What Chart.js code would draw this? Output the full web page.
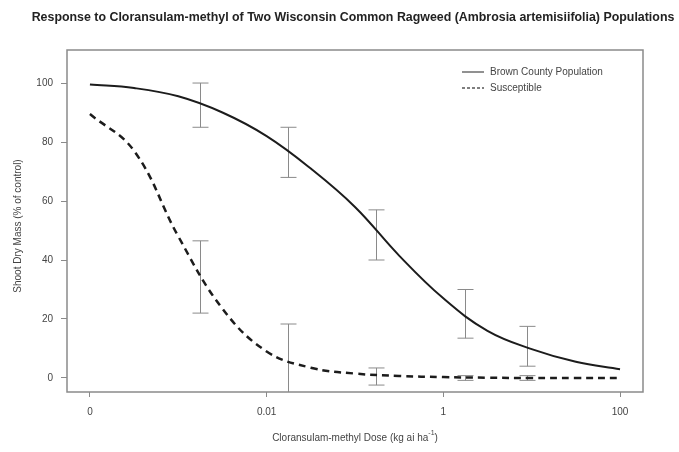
<!DOCTYPE html>
<html>
<head>
<meta charset="utf-8">
<script src="https://cdn.jsdelivr.net/npm/chart.js@4/dist/chart.umd.min.js"></script>
<style>
  html, body { margin: 0; padding: 0; background: #fff; }
</style>
</head>
<body>
<canvas id="c" width="679" height="452"></canvas>
<script>
const titleText = "Response to Cloransulam-methyl of Two Wisconsin Common Ragweed (Ambrosia artemisiifolia) Populations";
const xTitle = "Cloransulam-methyl Dose (kg ai ha";
const yTitle = "Shoot Dry Mass (% of control)";

const xTickValues = [0.0001, 0.01, 1, 100];
const xTickLabels = ["0", "0.01", "1", "100"];
const yTickValues = [0, 20, 40, 60, 80, 100];

// fitted curves, every half decade
const curveDose = [0.0001, 0.000316, 0.001, 0.00316, 0.01, 0.0316, 0.1, 0.316, 1, 3.16, 10, 31.6, 100];
const brownCurve = [99.5, 98.3, 95.5, 90, 82, 71, 58, 41.5, 27, 16, 9.8, 5.5, 3];
const suscCurve = [89.5, 77, 48, 23.5, 9, 3.5, 1.5, 0.7, 0.3, 0.1, 0, 0, 0];

// observed means with error bars
const obsDose = [0.00175, 0.0175, 0.175, 1.75, 8.75];
const brownLow = [85, 68, 40, 13.5, 4];
const brownHigh = [100, 85, 57, 30, 17.5];
const suscLow = [22, -8, -2.4, -0.8, -0.8];
const suscHigh = [46.5, 18.3, 3.4, 0.8, 0.8];

const seriesNames = ["Brown County Population", "Susceptible"];

const toPts = (xs, ys) => xs.map((x, i) => ({ x: x, y: ys[i] }));

const frame = {
  id: "frame",
  beforeDatasetsDraw(chart) {
    const { ctx, chartArea: a, scales } = chart;
    ctx.save();
    ctx.beginPath();
    ctx.rect(a.left, a.top, a.right - a.left, a.bottom - a.top);
    ctx.clip();
    ctx.strokeStyle = "#8a8a8a";
    ctx.lineWidth = 1;
    const bars = [[brownLow, brownHigh], [suscLow, suscHigh]];
    bars.forEach(([lo, hi]) => {
      obsDose.forEach((d, i) => {
        const x = Math.round(scales.x.getPixelForValue(d)) + 0.5;
        const y1 = scales.y.getPixelForValue(lo[i]);
        const y2 = scales.y.getPixelForValue(hi[i]);
        ctx.beginPath();
        ctx.moveTo(x, y1); ctx.lineTo(x, y2);
        ctx.moveTo(x - 8, y1); ctx.lineTo(x + 8, y1);
        ctx.moveTo(x - 8, y2); ctx.lineTo(x + 8, y2);
        ctx.stroke();
      });
    });
    ctx.restore();
  },
  afterDraw(chart) {
    const { ctx, chartArea: a } = chart;
    ctx.save();
    ctx.strokeStyle = "#8a8a8a";
    ctx.lineWidth = 1.5;
    ctx.strokeRect(a.left, a.top, a.right - a.left, a.bottom - a.top);

    ctx.fillStyle = "#222";
    ctx.font = "bold 12.4px 'Liberation Sans', Arial, sans-serif";
    ctx.textAlign = "center";
    ctx.textBaseline = "middle";
    ctx.fillText(titleText, 353, 18);

    ctx.fillStyle = "#444";
    ctx.font = "10px 'Liberation Sans', Arial, sans-serif";
    const cx = (a.left + a.right) / 2;
    const w1 = ctx.measureText(xTitle).width;
    ctx.font = "7px 'Liberation Sans', Arial, sans-serif";
    const w2 = ctx.measureText("-1").width;
    ctx.font = "10px 'Liberation Sans', Arial, sans-serif";
    const w3 = ctx.measureText(")").width;
    let x0 = cx - (w1 + w2 + w3) / 2;
    ctx.textAlign = "left";
    ctx.fillText(xTitle, x0, 438);
    ctx.font = "7px 'Liberation Sans', Arial, sans-serif";
    ctx.fillText("-1", x0 + w1, 433);
    ctx.font = "10px 'Liberation Sans', Arial, sans-serif";
    ctx.fillText(")", x0 + w1 + w2, 438);

    ctx.save();
    ctx.translate(18, (a.top + a.bottom) / 2 + 5);
    ctx.rotate(-Math.PI / 2);
    ctx.textAlign = "center";
    ctx.fillText(yTitle, 0, 0);
    ctx.restore();

    // legend
    const ds = chart.data.datasets;
    ctx.textAlign = "left";
    ctx.fillStyle = "#444";
    ds.forEach((d, i) => {
      const y = 72 + i * 16;
      ctx.beginPath();
      ctx.strokeStyle = "#555";
      ctx.lineWidth = 1.3;
      ctx.setLineDash(i === 0 ? [] : [3, 2]);
      ctx.moveTo(462, y); ctx.lineTo(484, y);
      ctx.stroke();
      ctx.fillText(d.label, 490, y);
    });
    ctx.restore();
  }
};

new Chart(document.getElementById("c"), {
  type: "line",
  data: {
    datasets: [
      {
        label: seriesNames[0],
        data: toPts(curveDose, brownCurve),
        borderColor: "#1c1c1c",
        borderWidth: 2,
        pointRadius: 0,
        tension: 0.4,
        fill: false
      },
      {
        label: seriesNames[1],
        data: toPts(curveDose, suscCurve),
        borderColor: "#1c1c1c",
        borderWidth: 2.5,
        borderDash: [7, 5],
        pointRadius: 0,
        tension: 0.4,
        fill: false
      }
    ]
  },
  options: {
    responsive: false,
    devicePixelRatio: 1,
    animation: false,
    layout: { padding: { top: 50, right: 36, left: 0, bottom: 0 } },
    plugins: { legend: { display: false }, tooltip: { enabled: false } },
    scales: {
      x: {
        type: "logarithmic",
        min: 5.5e-5,
        max: 182,
        afterBuildTicks: (s) => { s.ticks = xTickValues.map(v => ({ value: v })); },
        afterFit: (s) => { s.height = 60; },
        grid: { display: true, drawOnChartArea: false, drawTicks: true, tickLength: 5, color: "#8a8a8a" },
        border: { display: false },
        ticks: {
          autoSkip: false,
          maxRotation: 0,
          padding: 9,
          color: "#444",
          font: { family: "'Liberation Sans', Arial, sans-serif", size: 10 },
          callback: (v, i) => xTickLabels[i]
        }
      },
      y: {
        type: "linear",
        min: -4.75,
        max: 111.2,
        afterBuildTicks: (s) => { s.ticks = yTickValues.map(v => ({ value: v })); },
        afterFit: (s) => { s.width = 67; },
        grid: { display: true, drawOnChartArea: false, drawTicks: true, tickLength: 6, color: "#8a8a8a" },
        border: { display: false },
        ticks: {
          padding: 8,
          color: "#444",
          font: { family: "'Liberation Sans', Arial, sans-serif", size: 10 }
        }
      }
    }
  },
  plugins: [frame]
});
</script>
</body>
</html>
